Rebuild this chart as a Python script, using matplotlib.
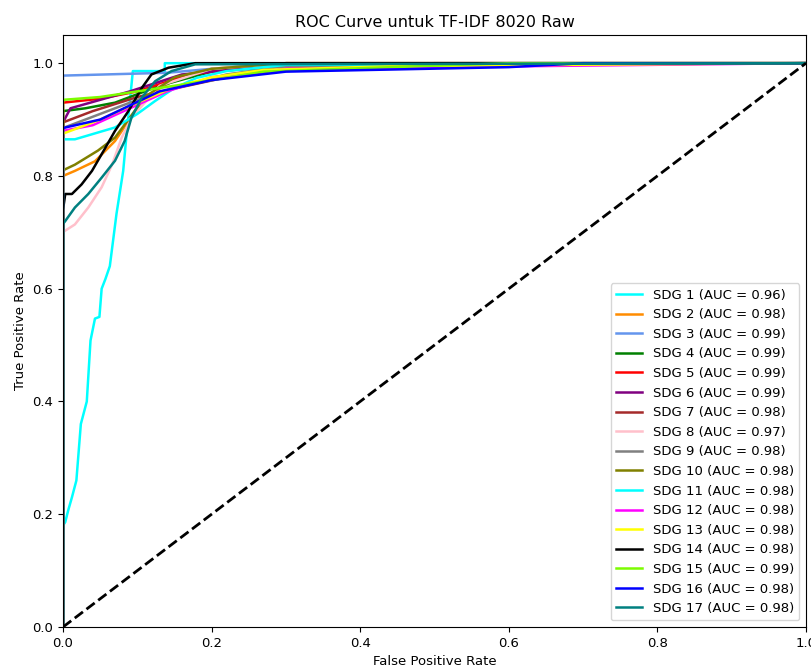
import matplotlib
matplotlib.use("Agg")
import matplotlib.pyplot as plt

labels = ["SDG 1", "SDG 2", "SDG 3", "SDG 4", "SDG 5", "SDG 6", "SDG 7", "SDG 8", "SDG 9",
          "SDG 10", "SDG 11", "SDG 12", "SDG 13", "SDG 14", "SDG 15", "SDG 16", "SDG 17"]
aucs = [0.96, 0.98, 0.99, 0.99, 0.99, 0.99, 0.98, 0.97, 0.98,
        0.98, 0.98, 0.98, 0.98, 0.98, 0.99, 0.98, 0.98]
colors = ["aqua", "darkorange", "cornflowerblue", "green", "red", "purple", "brown", "pink", "gray",
          "olive", "cyan", "magenta", "yellow", "black", "lawngreen", "blue", "teal"]

fpr_1 = [0, 0, 0.003, 0.007, 0.012, 0.018, 0.024, 0.032, 0.037, 0.043, 0.049, 0.052, 0.057, 0.063, 0.072, 0.081, 0.086, 0.094, 0.137, 0.137, 1]
tpr_1 = [0, 0.18, 0.186, 0.207, 0.23, 0.26, 0.36, 0.40, 0.508, 0.547, 0.55, 0.60, 0.617, 0.64, 0.733, 0.809, 0.88, 0.986, 0.986, 1.0, 1.0]
fpr_2 = [0, 0, 0.016, 0.043, 0.07, 0.088, 0.11, 0.15, 0.2, 0.3, 1]
tpr_2 = [0, 0.80, 0.809, 0.826, 0.862, 0.897, 0.94, 0.97, 0.99, 1.0, 1.0]
fpr_3 = [0, 0, 0.14, 0.2, 0.3, 0.5, 1]
tpr_3 = [0, 0.978, 0.983, 0.99, 0.995, 0.998, 1.0]
fpr_4 = [0, 0, 0.03, 0.07, 0.13, 0.2, 0.3, 1]
tpr_4 = [0, 0.915, 0.92, 0.93, 0.96, 0.985, 0.995, 1.0]
fpr_5 = [0, 0, 0.05, 0.1, 0.17, 0.3, 1]
tpr_5 = [0, 0.93, 0.937, 0.95, 0.98, 1.0, 1.0]
fpr_6 = [0, 0, 0.01, 0.05, 0.09, 0.16, 0.3, 1]
tpr_6 = [0, 0.895, 0.92, 0.935, 0.95, 0.98, 0.997, 1.0]
fpr_7 = [0, 0, 0.04, 0.1, 0.15, 0.22, 0.3, 0.5, 1]
tpr_7 = [0, 0.895, 0.915, 0.94, 0.955, 0.975, 0.99, 1.0, 1.0]
fpr_8 = [0, 0, 0.003, 0.016, 0.034, 0.052, 0.066, 0.079, 0.092, 0.13, 0.2, 0.3, 1]
tpr_8 = [0, 0.70, 0.703, 0.714, 0.744, 0.78, 0.82, 0.868, 0.903, 0.96, 0.99, 1.0, 1.0]
fpr_9 = [0, 0, 0.04, 0.1, 0.16, 0.22, 0.3, 1]
tpr_9 = [0, 0.885, 0.905, 0.935, 0.96, 0.98, 0.995, 1.0]
fpr_10 = [0, 0, 0.016, 0.047, 0.07, 0.088, 0.11, 0.15, 0.2, 0.3, 1]
tpr_10 = [0, 0.81, 0.82, 0.845, 0.868, 0.90, 0.94, 0.975, 0.99, 1.0, 1.0]
fpr_11 = [0, 0, 0.016, 0.07, 0.10, 0.124, 0.15, 0.18, 0.22, 0.3, 1]
tpr_11 = [0, 0.865, 0.865, 0.886, 0.91, 0.933, 0.956, 0.974, 0.986, 0.997, 1.0]
fpr_12 = [0, 0, 0.04, 0.09, 0.14, 0.2, 0.3, 1]
tpr_12 = [0, 0.88, 0.89, 0.92, 0.95, 0.975, 0.99, 1.0]
fpr_13 = [0, 0, 0.05, 0.1, 0.15, 0.2, 0.27, 0.45, 1]
tpr_13 = [0, 0.875, 0.9, 0.93, 0.958, 0.975, 0.988, 0.995, 1.0]
fpr_14 = [0, 0, 0.003, 0.012, 0.025, 0.039, 0.057, 0.07, 0.088, 0.106, 0.119, 0.142, 0.178, 1]
tpr_14 = [0, 0.74, 0.768, 0.768, 0.785, 0.809, 0.85, 0.88, 0.915, 0.956, 0.98, 0.992, 1.0, 1.0]
fpr_15 = [0, 0, 0.05, 0.1, 0.2, 0.27, 0.42, 0.6, 1]
tpr_15 = [0, 0.935, 0.94, 0.95, 0.97, 0.985, 0.992, 1.0, 1.0]
fpr_16 = [0, 0, 0.05, 0.09, 0.13, 0.2, 0.3, 0.6, 0.7, 1]
tpr_16 = [0, 0.885, 0.9, 0.925, 0.95, 0.97, 0.985, 0.993, 1.0, 1.0]
fpr_17 = [0, 0, 0.003, 0.016, 0.034, 0.052, 0.07, 0.083, 0.092, 0.106, 0.124, 0.146, 0.178, 1]
tpr_17 = [0, 0.715, 0.72, 0.744, 0.768, 0.797, 0.827, 0.862, 0.903, 0.939, 0.968, 0.986, 0.998, 1.0]

fprs = [fpr_1, fpr_2, fpr_3, fpr_4, fpr_5, fpr_6, fpr_7, fpr_8, fpr_9, fpr_10,
        fpr_11, fpr_12, fpr_13, fpr_14, fpr_15, fpr_16, fpr_17]
tprs = [tpr_1, tpr_2, tpr_3, tpr_4, tpr_5, tpr_6, tpr_7, tpr_8, tpr_9, tpr_10,
        tpr_11, tpr_12, tpr_13, tpr_14, tpr_15, tpr_16, tpr_17]

fig = plt.figure(figsize=(8.11, 6.68), dpi=100)
ax = fig.add_axes([0.0777, 0.0614, 0.9161, 0.8862])

for lab, auc, col, f, t in zip(labels, aucs, colors, fprs, tprs):
    ax.plot(f, t, color=col, lw=1.8, label=f"{lab} (AUC = {auc:.2f})")

ax.plot([0, 1], [0, 1], "k--", lw=2)
ax.set_xlim(0.0, 1.0)
ax.set_ylim(0.0, 1.05)
ax.set_xlabel("False Positive Rate", fontsize=9.5)
ax.set_ylabel("True Positive Rate", fontsize=9.5)
ax.set_title("ROC Curve untuk TF-IDF 8020 Raw", fontsize=11.5)
ax.tick_params(labelsize=9.5)
ax.legend(loc="lower right", fontsize=9.5)

fig.savefig("out.png", dpi=100)
